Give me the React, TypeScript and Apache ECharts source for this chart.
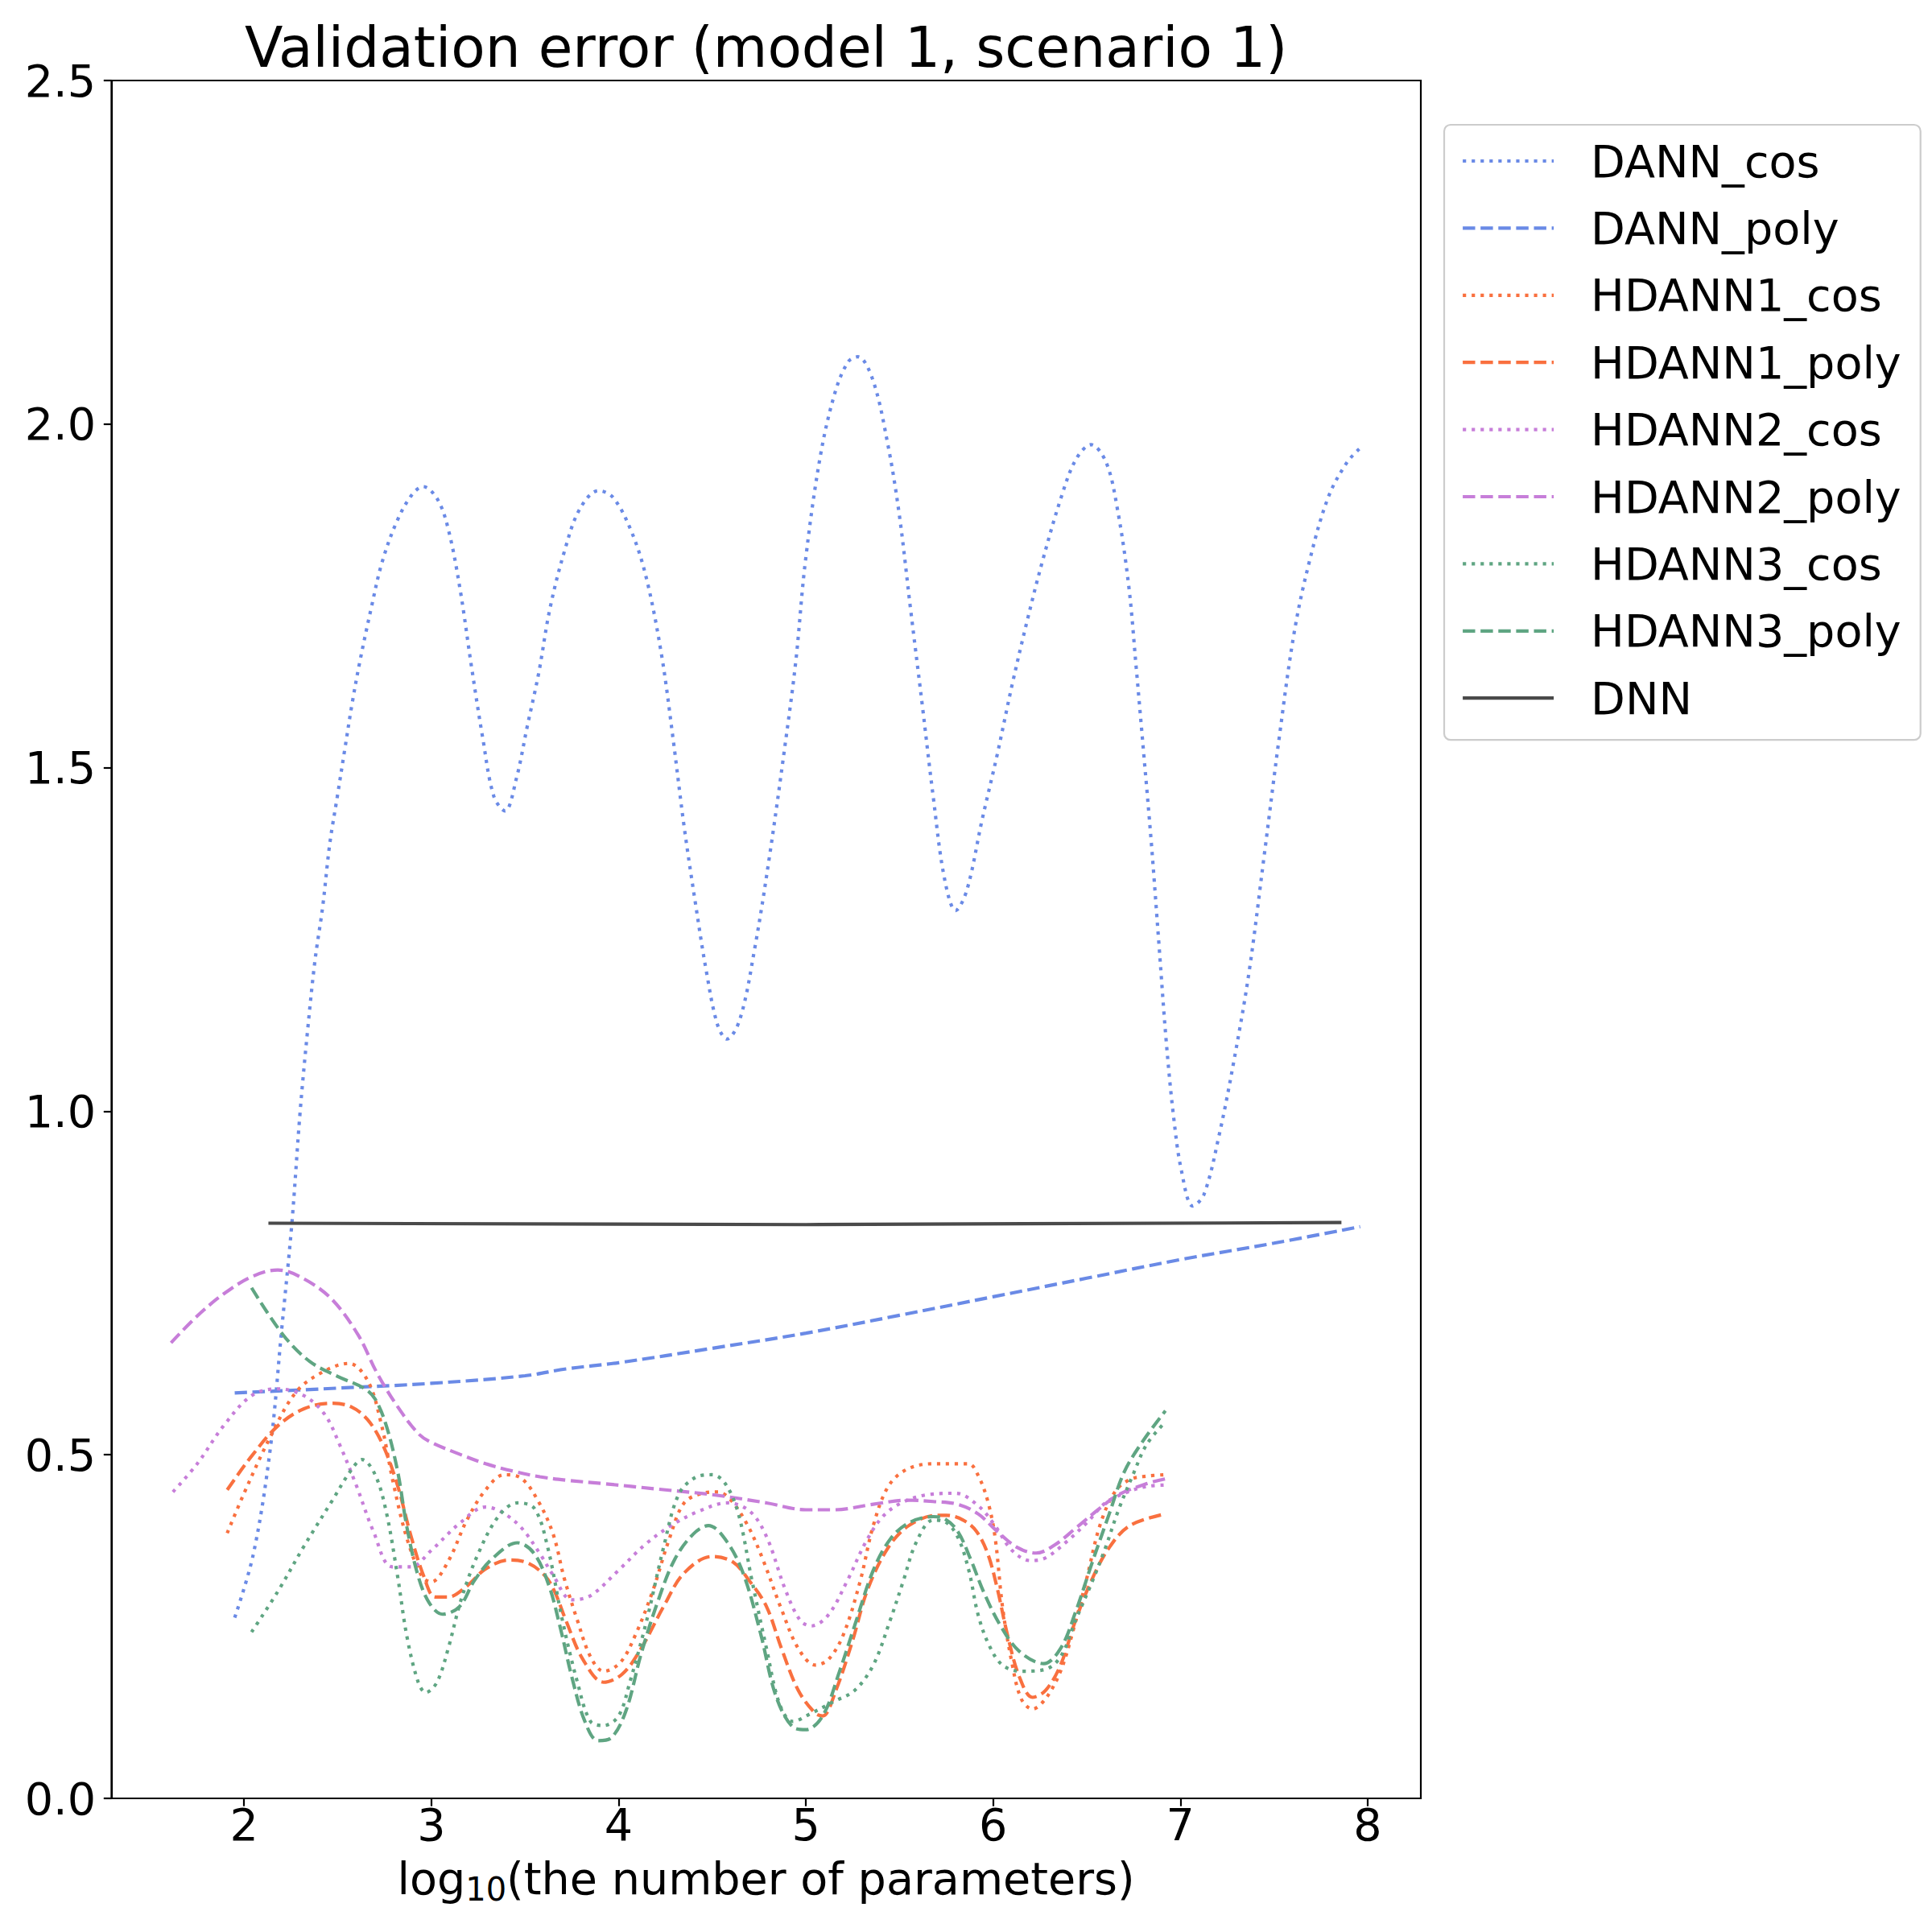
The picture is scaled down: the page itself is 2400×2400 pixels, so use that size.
import React, { useEffect, useRef } from "react";
import * as echarts from "echarts";

const FONT = "DejaVu Sans";

const seriesNames = [
  "DANN_cos",
  "DANN_poly",
  "HDANN1_cos",
  "HDANN1_poly",
  "HDANN2_cos",
  "HDANN2_poly",
  "HDANN3_cos",
  "HDANN3_poly",
  "DNN",
];

const xTicks = [2, 3, 4, 5, 6, 7, 8];
const yTicks = [0, 0.5, 1.0, 1.5, 2.0, 2.5];

const dannCos = [
  [1.95, 0.263], [2.05, 0.356], [2.14, 0.509], [2.2, 0.68], [2.255, 0.836],
  [2.299, 0.998], [2.339, 1.117], [2.379, 1.22], [2.419, 1.296], [2.458, 1.39],
  [2.498, 1.458], [2.538, 1.527], [2.578, 1.595], [2.618, 1.654], [2.678, 1.731],
  [2.737, 1.799], [2.817, 1.859], [2.896, 1.897], [2.956, 1.909], [3.036, 1.889],
  [3.095, 1.842], [3.155, 1.757], [3.215, 1.646], [3.274, 1.544], [3.334, 1.458],
  [3.394, 1.437], [3.454, 1.484], [3.513, 1.561], [3.573, 1.637], [3.633, 1.731],
  [3.712, 1.816], [3.792, 1.876], [3.892, 1.903], [3.971, 1.893], [4.071, 1.842],
  [4.15, 1.774], [4.23, 1.663], [4.29, 1.544], [4.349, 1.416], [4.409, 1.305],
  [4.469, 1.203], [4.528, 1.126], [4.578, 1.105], [4.648, 1.134], [4.727, 1.237],
  [4.807, 1.373], [4.886, 1.527], [4.946, 1.654], [4.997, 1.799], [5.077, 1.953],
  [5.157, 2.047], [5.227, 2.091], [5.278, 2.098], [5.358, 2.064], [5.438, 1.97],
  [5.499, 1.868], [5.559, 1.731], [5.62, 1.595], [5.68, 1.458], [5.74, 1.339],
  [5.8, 1.292], [5.86, 1.322], [5.941, 1.424], [6.021, 1.518], [6.101, 1.62],
  [6.182, 1.714], [6.262, 1.799], [6.363, 1.893], [6.443, 1.949], [6.523, 1.97],
  [6.604, 1.944], [6.664, 1.876], [6.724, 1.765], [6.764, 1.646], [6.805, 1.518],
  [6.845, 1.39], [6.885, 1.245], [6.925, 1.1], [6.965, 0.989], [7.006, 0.913],
  [7.066, 0.862], [7.126, 0.879], [7.206, 0.964], [7.287, 1.075], [7.367, 1.203],
  [7.448, 1.373], [7.528, 1.544], [7.608, 1.697], [7.688, 1.799], [7.789, 1.893],
  [7.889, 1.944], [7.96, 1.965],
];

const dannPoly = [
  [1.95, 0.59], [2.5, 0.597], [3.0, 0.604], [3.5, 0.615], [3.72, 0.625],
  [4.0, 0.634], [4.5, 0.655], [5.0, 0.677], [5.5, 0.703], [6.0, 0.73],
  [6.5, 0.757], [7.0, 0.784], [7.5, 0.808], [7.96, 0.832],
];

const hdann1Cos = [
  [1.91, 0.386], [2.0, 0.444], [2.14, 0.526], [2.28, 0.592], [2.43, 0.622],
  [2.56, 0.633], [2.66, 0.608], [2.73, 0.548], [2.8, 0.455], [2.87, 0.378],
  [2.95, 0.323], [3.0, 0.315], [3.09, 0.345], [3.19, 0.405], [3.29, 0.449],
  [3.39, 0.471], [3.48, 0.466], [3.57, 0.433], [3.65, 0.385], [3.71, 0.32],
  [3.78, 0.259], [3.85, 0.206], [3.92, 0.185], [4.01, 0.198], [4.09, 0.238],
  [4.18, 0.3], [4.27, 0.377], [4.35, 0.43], [4.45, 0.444], [4.53, 0.446],
  [4.6, 0.434], [4.69, 0.397], [4.77, 0.348], [4.87, 0.275], [4.96, 0.218],
  [5.05, 0.194], [5.12, 0.202], [5.2, 0.238], [5.29, 0.316], [5.36, 0.397],
  [5.44, 0.454], [5.54, 0.479], [5.68, 0.487], [5.8, 0.487], [5.87, 0.487],
  [5.92, 0.47], [5.97, 0.434], [6.01, 0.381], [6.05, 0.279], [6.1, 0.198],
  [6.15, 0.145], [6.21, 0.13], [6.28, 0.145], [6.36, 0.185], [6.43, 0.247],
  [6.5, 0.32], [6.57, 0.397], [6.65, 0.446], [6.73, 0.464], [6.82, 0.469],
  [6.92, 0.471],
];

const hdann1Poly = [
  [1.91, 0.449], [2.04, 0.498], [2.18, 0.542], [2.32, 0.567], [2.47, 0.575],
  [2.57, 0.57], [2.66, 0.551], [2.74, 0.515], [2.82, 0.455], [2.89, 0.383],
  [2.96, 0.323], [3.02, 0.293], [3.09, 0.293], [3.19, 0.309], [3.29, 0.334],
  [3.42, 0.347], [3.52, 0.342], [3.61, 0.323], [3.66, 0.3], [3.72, 0.258],
  [3.81, 0.202], [3.92, 0.169], [4.02, 0.181], [4.12, 0.218], [4.24, 0.279],
  [4.35, 0.328], [4.5, 0.352], [4.61, 0.344], [4.7, 0.316], [4.79, 0.279],
  [4.87, 0.218], [4.96, 0.157], [5.05, 0.124], [5.09, 0.12], [5.16, 0.157],
  [5.25, 0.23], [5.33, 0.304], [5.44, 0.365], [5.55, 0.397], [5.7, 0.412],
  [5.75, 0.412], [5.84, 0.405], [5.91, 0.389], [5.97, 0.357], [6.02, 0.308],
  [6.08, 0.234], [6.14, 0.177], [6.21, 0.147], [6.28, 0.157], [6.36, 0.194],
  [6.44, 0.259], [6.53, 0.32], [6.62, 0.365], [6.73, 0.397], [6.92, 0.414],
];

const hdann2Cos = [
  [1.62, 0.446], [1.75, 0.487], [1.89, 0.542], [2.04, 0.586], [2.18, 0.596],
  [2.32, 0.586], [2.43, 0.559], [2.51, 0.515], [2.6, 0.455], [2.69, 0.389],
  [2.79, 0.337], [2.89, 0.337], [3.0, 0.361], [3.15, 0.4], [3.29, 0.424],
  [3.38, 0.416], [3.48, 0.394], [3.58, 0.356], [3.65, 0.325], [3.75, 0.289],
  [3.85, 0.295], [4.0, 0.332], [4.14, 0.369], [4.28, 0.397], [4.43, 0.418],
  [4.58, 0.43], [4.7, 0.418], [4.79, 0.381], [4.89, 0.304], [4.97, 0.259],
  [5.03, 0.251], [5.12, 0.267], [5.22, 0.316], [5.32, 0.373], [5.41, 0.41],
  [5.51, 0.43], [5.65, 0.442], [5.8, 0.444], [5.92, 0.426], [6.01, 0.397],
  [6.1, 0.361], [6.2, 0.346], [6.28, 0.35], [6.39, 0.373], [6.5, 0.401],
  [6.6, 0.43], [6.72, 0.446], [6.82, 0.454], [6.92, 0.456],
];

const hdann2Poly = [
  [1.61, 0.663], [1.75, 0.702], [1.89, 0.734], [2.04, 0.759], [2.18, 0.769],
  [2.32, 0.756], [2.47, 0.726], [2.61, 0.674], [2.71, 0.619], [2.82, 0.57],
  [2.93, 0.531], [3.0, 0.518], [3.15, 0.501], [3.29, 0.487], [3.44, 0.476],
  [3.58, 0.468], [3.72, 0.463], [3.92, 0.458], [4.21, 0.45], [4.5, 0.442],
  [4.79, 0.43], [5.0, 0.42], [5.15, 0.42], [5.36, 0.428], [5.54, 0.434],
  [5.68, 0.432], [5.81, 0.428], [5.92, 0.414], [6.02, 0.389], [6.13, 0.365],
  [6.23, 0.357], [6.33, 0.369], [6.44, 0.393], [6.56, 0.42], [6.67, 0.442],
  [6.82, 0.458], [6.92, 0.465],
];

const hdann3Cos = [
  [2.04, 0.242], [2.18, 0.301], [2.32, 0.367], [2.47, 0.433], [2.57, 0.477],
  [2.63, 0.493], [2.7, 0.471], [2.76, 0.416], [2.82, 0.323], [2.87, 0.235],
  [2.93, 0.169], [2.97, 0.154], [3.03, 0.169], [3.09, 0.218], [3.16, 0.29],
  [3.25, 0.356], [3.36, 0.411], [3.46, 0.43], [3.55, 0.422], [3.62, 0.367],
  [3.7, 0.259], [3.78, 0.169], [3.85, 0.112], [3.92, 0.106], [4.0, 0.12],
  [4.06, 0.169], [4.15, 0.259], [4.24, 0.365], [4.32, 0.442], [4.41, 0.467],
  [4.5, 0.471], [4.57, 0.458], [4.64, 0.414], [4.71, 0.32], [4.79, 0.218],
  [4.86, 0.137], [4.93, 0.112], [5.03, 0.124], [5.15, 0.141], [5.26, 0.157],
  [5.36, 0.194], [5.45, 0.259], [5.52, 0.316], [5.59, 0.373], [5.68, 0.405],
  [5.74, 0.403], [5.81, 0.381], [5.87, 0.332], [5.92, 0.267], [5.98, 0.222],
  [6.05, 0.194], [6.15, 0.185], [6.27, 0.187], [6.36, 0.206], [6.44, 0.259],
  [6.53, 0.316], [6.6, 0.365], [6.67, 0.42], [6.75, 0.473], [6.82, 0.515],
  [6.92, 0.548],
];

const hdann3Poly = [
  [2.04, 0.743], [2.21, 0.674], [2.35, 0.636], [2.5, 0.614], [2.64, 0.597],
  [2.7, 0.581], [2.76, 0.542], [2.82, 0.476], [2.87, 0.394], [2.93, 0.323],
  [2.99, 0.284], [3.06, 0.268], [3.15, 0.279], [3.23, 0.317], [3.33, 0.35],
  [3.46, 0.372], [3.55, 0.356], [3.63, 0.308], [3.69, 0.247], [3.75, 0.177],
  [3.82, 0.112], [3.89, 0.084], [3.96, 0.088], [4.04, 0.128], [4.12, 0.21],
  [4.21, 0.287], [4.3, 0.348], [4.4, 0.385], [4.48, 0.397], [4.58, 0.373],
  [4.67, 0.324], [4.76, 0.238], [4.84, 0.149], [4.93, 0.104], [5.0, 0.1],
  [5.09, 0.12], [5.18, 0.185], [5.26, 0.251], [5.36, 0.332], [5.45, 0.377],
  [5.55, 0.401], [5.68, 0.41], [5.74, 0.407], [5.81, 0.389], [5.88, 0.348],
  [5.95, 0.3], [6.04, 0.251], [6.14, 0.214], [6.27, 0.196], [6.36, 0.218],
  [6.44, 0.271], [6.53, 0.344], [6.62, 0.414], [6.7, 0.475], [6.8, 0.52],
  [6.92, 0.564],
];

const dnn = [
  [2.13, 0.837], [5.0, 0.835], [7.86, 0.838],
];

const seriesData = [dannCos, dannPoly, hdann1Cos, hdann1Poly, hdann2Cos, hdann2Poly, hdann3Cos, hdann3Poly, dnn];
const seriesColors = ["#6a8ae6", "#6a8ae6", "#f9703f", "#f9703f", "#c77ed9", "#c77ed9", "#5fa582", "#5fa582", "#4a4a4a"];
const seriesStyles = ["dot", "dash", "dot", "dash", "dot", "dash", "dot", "dash", "solid"];

const LW = 4.17;
const DOT = [LW, LW * 1.65];
const DASH = [LW * 3.7, LW * 1.6];

export default function App() {
  const ref = useRef<HTMLDivElement>(null);
  useEffect(() => {
    if (!ref.current) return;
    const chart = echarts.init(ref.current, null, { renderer: "svg" });
    const series = seriesNames.map((name, i) => ({
      name,
      type: "line",
      data: seriesData[i],
      showSymbol: false,
      symbol: "none",
      smooth: seriesStyles[i] === "solid" ? false : 0.35,
      lineStyle: {
        color: seriesColors[i],
        width: LW,
        type: seriesStyles[i] === "dot" ? DOT : seriesStyles[i] === "dash" ? DASH : "solid",
        cap: "butt",
      },
      itemStyle: { color: seriesColors[i] },
      emphasis: { disabled: true },
      z: 2 + i,
    }));
    chart.setOption({
      animation: false,
      backgroundColor: "#ffffff",
      grid: {
        left: 138.5,
        right: 635,
        top: 100,
        bottom: 166,
        show: true,
        borderColor: "#000",
        borderWidth: 2.2,
        backgroundColor: "transparent",
      },
      xAxis: {
        type: "value",
        min: 1.292,
        max: 8.284,
        splitLine: { show: false },
        axisLine: { show: true, onZero: false, lineStyle: { color: "#000", width: 2.2 } },
        axisTick: { show: true, length: 9.7, lineStyle: { color: "#000", width: 2.2 }, customValues: xTicks },
        axisLabel: {
          customValues: xTicks,
          fontSize: 55.6,
          fontFamily: FONT,
          color: "#000",
          margin: 4,
          formatter: (v: number) => String(Math.round(v)),
        },
      },
      yAxis: {
        type: "value",
        min: 0,
        max: 2.5,
        interval: 0.5,
        splitLine: { show: false },
        axisLine: { show: true, lineStyle: { color: "#000", width: 2.2 } },
        axisTick: { show: true, length: 9.7, lineStyle: { color: "#000", width: 2.2 }, customValues: yTicks },
        axisLabel: {
          customValues: yTicks,
          fontSize: 55.6,
          fontFamily: FONT,
          color: "#000",
          margin: 19.4,
          formatter: (v: number) => v.toFixed(1),
        },
      },
      legend: {
        data: seriesNames,
        orient: "vertical",
        left: 1794,
        top: 155,
        padding: [15, 24, 22, 21],
        itemWidth: 113,
        itemHeight: 20,
        itemGap: 23.4,
        selectedMode: false,
        backgroundColor: "#ffffff",
        borderColor: "#cccccc",
        borderWidth: 2.2,
        borderRadius: 8,
        itemStyle: { opacity: 0, borderWidth: 0 },
        lineStyle: { width: LW },
        textStyle: {
          fontSize: 55.6,
          fontFamily: FONT,
          color: "#000",
          lineHeight: 60,
          padding: [0, 0, 0, 41],
        },
      },
      graphic: [
        {
          type: "text",
          x: 951.6,
          y: 59,
          style: {
            text: "Validation error (model 1, scenario 1)",
            fontSize: 69.4,
            fontFamily: FONT,
            fill: "#000",
            align: "center",
            verticalAlign: "middle",
          },
        },
        {
          type: "text",
          x: 951.6,
          y: 2333,
          style: {
            text: "{a|log}{b|10}{a|(the number of parameters)}",
            fontSize: 55.6,
            fontFamily: FONT,
            fill: "#000",
            align: "center",
            verticalAlign: "middle",
            rich: {
              a: { fontSize: 55.6, fontFamily: FONT, fill: "#000", lineHeight: 67, verticalAlign: "middle" },
              b: { fontSize: 40, fontFamily: FONT, fill: "#000", lineHeight: 40, verticalAlign: "bottom" },
            },
          },
        },
      ],
      series,
    });
    return () => chart.dispose();
  }, []);
  return (
    <div
      ref={ref}
      style={{ position: "absolute", left: 0, top: 0, width: 2400, height: 2400, background: "#fff" }}
    />
  );
}
